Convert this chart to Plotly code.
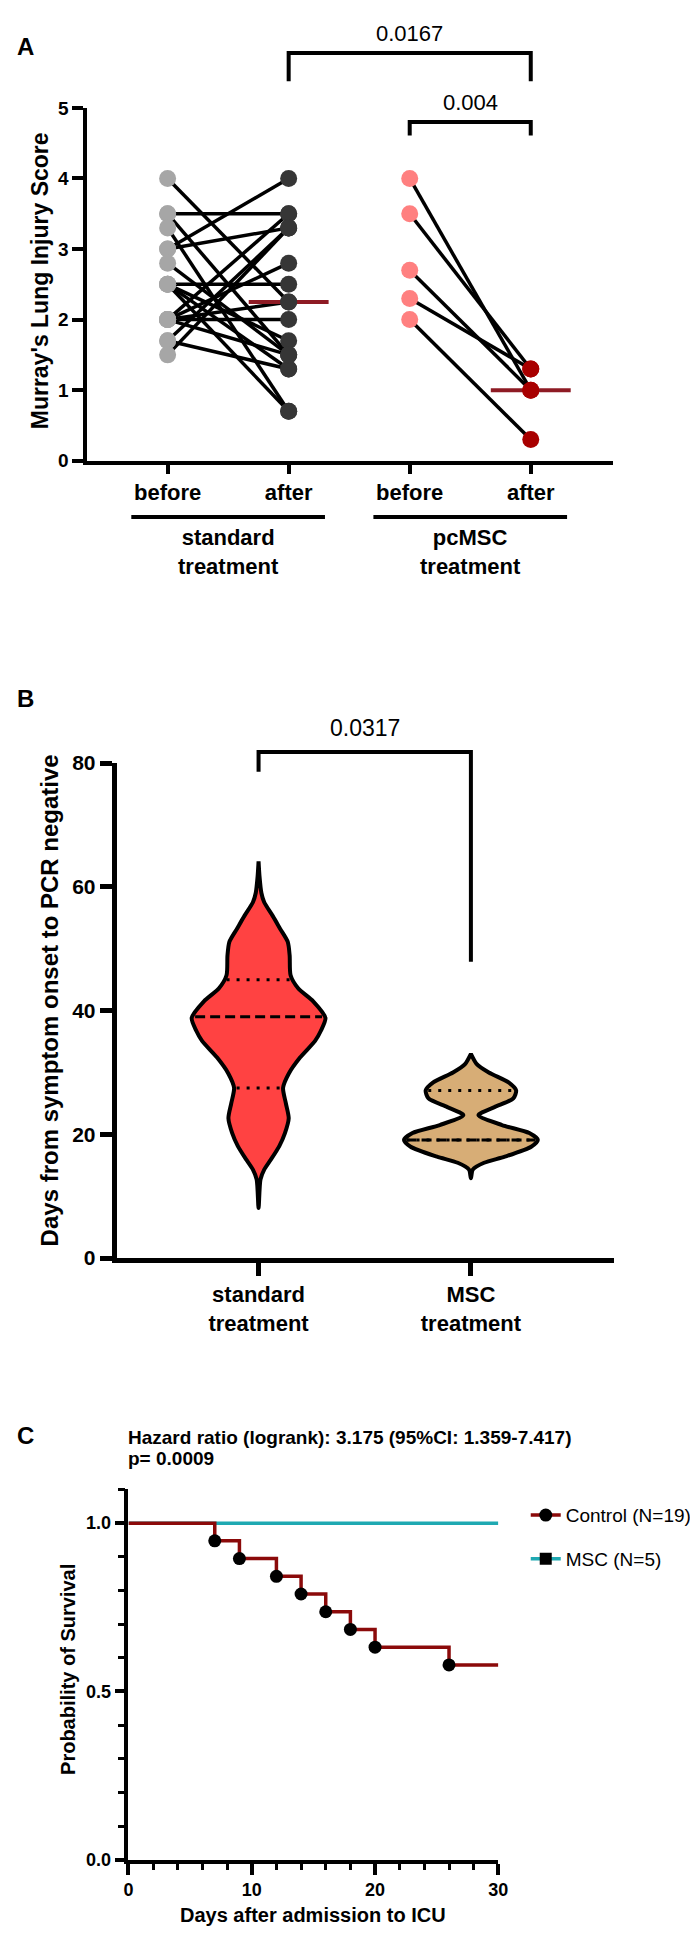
import numpy as np
import plotly.graph_objects as go

# ======================= DATA =======================
# Panel A : Murray's lung injury score, paired before/after
a_tick_labels = ["before", "after", "before", "after"]
a_group_labels = ["standard<br>treatment", "pcMSC<br>treatment"]
std_before = [4.0, 3.5, 3.5, 3.3, 3.0, 3.0, 2.8, 2.5, 2.5, 2.5, 2.0, 2.0, 2.0, 2.0, 1.7, 1.7, 1.5, 2.5, 2.0]
std_after = [2.25, 3.5, 1.5, 0.7, 4.0, 3.3, 1.5, 2.5, 1.3, 0.7, 2.0, 3.5, 2.8, 2.25, 3.3, 1.3, 3.3, 1.7, 1.5]
msc_before = [4.0, 3.5, 2.7, 2.3, 2.0]
msc_after = [1.0, 1.3, 1.0, 1.3, 0.3]
a_pvalues = ["0.0167", "0.004"]

# Panel B : days from symptom onset to PCR negative (violin profiles)
b_categories = ["standard<br>treatment", "MSC<br>treatment"]
std_days_values = [8.1, 12.7, 14.3, 15.9, 18.1, 20.2, 22.6, 25.0, 27.5, 29.8, 32.4, 35.1, 36.7,
                   38.8, 41.5, 43.6, 45.7, 48.9, 51.1, 53.2, 55.3, 57.5, 59.0, 61.7, 64.1]
std_days_density = [0, 2, 6, 13, 22, 28, 32, 29, 26, 32, 44, 60, 66,
                    71, 58, 42, 34, 33, 31, 23, 15, 6, 3, 1, 0]
msc_days_values = [12.9, 14.3, 15.4, 16.4, 18.0, 19.1, 20.2, 21.5, 23.1, 24.4, 25.8, 27.1, 28.4, 30.0, 31.4, 33.0]
msc_days_density = [0, 2, 14, 36, 64, 71, 62, 33, 8, 25, 45, 48, 40, 19, 6, 0]
std_days_quartiles = [27.5, 39.0, 45.0]   # q1, median, q3
msc_days_quartiles = [19.1, 19.1, 27.1]
b_pvalue = "0.0317"

# Panel C : Kaplan-Meier survival
control_death_days = [7, 9, 12, 14, 16, 18, 20, 26]
control_n = 19
msc_death_days = []
msc_n = 5
followup_days = 30
c_legend = ["Control (N=19)", "MSC (N=5)"]
c_title = ["Hazard ratio (logrank): 3.175 (95%CI: 1.359-7.417)", "p= 0.0009"]

# ======================= LAYOUT HELPERS =======================
W, H = 698, 1933
FONT = "Arial, Liberation Sans, sans-serif"


def fx(px):
    return px / W


def fy(py):
    return 1 - py / H


DOM = {
    "A": dict(x=[fx(76), fx(613)], y=[fy(446), fy(89)], xr=[-0.663, 3.678], yr=[0, 5]),
    "B": dict(x=[fx(106), fx(614)], y=[fy(1253), fy(752)], xr=[-0.668, 1.673], yr=[0, 80]),
    "C": dict(x=[fx(118), fx(496)], y=[fy(1862), fy(1487)], xr=[0, 30], yr=[0, 1.1005]),
}


def paper_x(p, v):
    d = DOM[p]
    return d["x"][0] + (v - d["xr"][0]) / (d["xr"][1] - d["xr"][0]) * (d["x"][1] - d["x"][0])


def paper_y(p, v):
    d = DOM[p]
    return d["y"][0] + (v - d["yr"][0]) / (d["yr"][1] - d["yr"][0]) * (d["y"][1] - d["y"][0])


fig = go.Figure()
shapes = []
annotations = []


def bracket(p, x0, x1, ytop, ydrop0, ydrop1, width):
    X0, X1 = paper_x(p, x0), paper_x(p, x1)
    YT, Y0, Y1 = paper_y(p, ytop), paper_y(p, ydrop0), paper_y(p, ydrop1)
    shapes.append(dict(type="path", xref="paper", yref="paper",
                       path=f"M {X0},{Y0} L {X0},{YT} L {X1},{YT} L {X1},{Y1}",
                       line=dict(color="black", width=width)))


# ======================= PANEL A =======================
def pair_lines(xb, xa, before, after):
    xs, ys = [], []
    for b, a in zip(before, after):
        xs += [xb, xa, None]
        ys += [b, a, None]
    return xs, ys


lx, ly = pair_lines(0, 1, std_before, std_after)
fig.add_trace(go.Scatter(x=lx, y=ly, mode="lines", line=dict(color="black", width=3.5),
                         xaxis="x", yaxis="y", showlegend=False, hoverinfo="skip"))
lx, ly = pair_lines(2, 3, msc_before, msc_after)
fig.add_trace(go.Scatter(x=lx, y=ly, mode="lines", line=dict(color="black", width=3.5),
                         xaxis="x", yaxis="y", showlegend=False, hoverinfo="skip"))

# medians of "after" groups
MED_HALF = 0.33
for xc, vals in [(1, std_after), (3, msc_after)]:
    m = float(np.median(vals))
    fig.add_trace(go.Scatter(x=[xc - MED_HALF, xc + MED_HALF], y=[m, m], mode="lines",
                             line=dict(color="#8E1B24", width=4), xaxis="x", yaxis="y",
                             showlegend=False, hoverinfo="skip"))

for xc, vals, col in [(0, std_before, "#A6A6A6"), (1, std_after, "#363636"),
                      (2, msc_before, "#FF8080"), (3, msc_after, "#A80000")]:
    fig.add_trace(go.Scatter(x=[xc] * len(vals), y=vals, mode="markers",
                             marker=dict(size=17, color=col, line=dict(width=0)),
                             xaxis="x", yaxis="y", showlegend=False, cliponaxis=False))

bracket("A", 1, 3, 5.78, 5.38, 5.38, 4)
bracket("A", 2, 3, 4.80, 4.61, 4.61, 4)
annotations.append(dict(x=paper_x("A", 2), y=fy(14), xref="paper", yref="paper", text=a_pvalues[0],
                        showarrow=False, font=dict(size=22, family=FONT, color="black"),
                        xanchor="center", yanchor="middle"))
annotations.append(dict(x=paper_x("A", 2.5), y=fy(83), xref="paper", yref="paper", text=a_pvalues[1],
                        showarrow=False, font=dict(size=22, family=FONT, color="black"),
                        xanchor="center", yanchor="middle"))

# group underlines and labels
for gi, (g0, g1) in enumerate([(0, 1), (2, 3)]):
    shapes.append(dict(type="line", xref="paper", yref="paper",
                       x0=paper_x("A", g0 - 0.3), x1=paper_x("A", g1 + 0.3), y0=fy(503), y1=fy(503),
                       line=dict(color="black", width=4)))
    annotations.append(dict(x=paper_x("A", (g0 + g1) / 2), y=fy(538), xref="paper", yref="paper",
                            text=a_group_labels[gi], showarrow=False,
                            font=dict(size=22, family=FONT, color="black", weight="bold"),
                            xanchor="center", yanchor="middle"))

annotations.append(dict(x=fx(27), y=fy(264), xref="paper", yref="paper",
                        text="Murray's Lung Injury Score", textangle=-90, showarrow=False,
                        font=dict(size=23, family=FONT, color="black", weight="bold"),
                        xanchor="center", yanchor="middle"))

# ======================= PANEL B =======================
VIOLIN_HALF = 0.315


def violin(center, values, dens, fill):
    dens = np.asarray(dens, float)
    hw = dens / dens.max() * VIOLIN_HALF
    vals = list(values)
    xs = [center + w for w in hw] + [center - w for w in hw[::-1]]
    ys = vals + vals[::-1]
    fig.add_trace(go.Scatter(x=xs, y=ys, mode="lines", fill="toself", fillcolor=fill,
                             line=dict(color="black", width=4, shape="spline", smoothing=0.7),
                             xaxis="x2", yaxis="y2", showlegend=False, hoverinfo="skip"))
    return hw


def qline(center, values, hw, v, dash):
    w = float(np.interp(v, values, hw)) - 0.012
    fig.add_trace(go.Scatter(x=[center - w, center + w], y=[v, v], mode="lines",
                             line=dict(color="black", width=3, dash=dash),
                             xaxis="x2", yaxis="y2", showlegend=False, hoverinfo="skip"))


hw_std = violin(0, std_days_values, std_days_density, "#FF4242")
hw_msc = violin(1, msc_days_values, msc_days_density, "#D7AD76")
for c, vals, hw, q in [(0, std_days_values, hw_std, std_days_quartiles),
                       (1, msc_days_values, hw_msc, msc_days_quartiles)]:
    qline(c, vals, hw, q[1], "10px,5px")
    qline(c, vals, hw, q[0], "3px,7px")
    qline(c, vals, hw, q[2], "3px,7px")

bracket("B", 0, 1, 81.8, 78.6, 47.9, 4)
annotations.append(dict(x=paper_x("B", 0.5), y=fy(717), xref="paper", yref="paper", text=b_pvalue,
                        showarrow=False, font=dict(size=23, family=FONT, color="black"),
                        xanchor="center", yanchor="middle"))
annotations.append(dict(x=fx(37), y=fy(992), xref="paper", yref="paper",
                        text="Days from symptom onset to PCR negative", textangle=-90, showarrow=False,
                        font=dict(size=24, family=FONT, color="black", weight="bold"),
                        xanchor="center", yanchor="middle"))

# ======================= PANEL C =======================
def km_curve(death_days, n, end):
    xs, ys = [0], [1.0]
    s = 1.0
    ev_x, ev_y = [], []
    at_risk = n
    for d in death_days:
        s = s * (at_risk - 1) / at_risk
        at_risk -= 1
        xs.append(d)
        ys.append(s)
        ev_x.append(d)
        ev_y.append(s)
    xs.append(end)
    ys.append(s)
    return xs, ys, ev_x, ev_y


mx, my, _, _ = km_curve(msc_death_days, msc_n, followup_days)
fig.add_trace(go.Scatter(x=mx, y=my, mode="lines", line=dict(color="#1FA9B2", width=3.5, shape="hv"),
                         xaxis="x3", yaxis="y3", showlegend=False, hoverinfo="skip"))
cx, cy, ex, ey = km_curve(control_death_days, control_n, followup_days)
fig.add_trace(go.Scatter(x=cx, y=cy, mode="lines", line=dict(color="#8B0A0A", width=3.5, shape="hv"),
                         xaxis="x3", yaxis="y3", showlegend=False, hoverinfo="skip"))
fig.add_trace(go.Scatter(x=ex, y=ey, mode="markers", marker=dict(size=13, color="black", symbol="circle"),
                         xaxis="x3", yaxis="y3", showlegend=False, hoverinfo="skip"))

# legend entries
fig.add_trace(go.Scatter(x=[None], y=[None], mode="lines+markers", name=c_legend[0], legendgroup="g1",
                         line=dict(color="#8B0A0A", width=3.5),
                         marker=dict(size=13, color="black", symbol="circle"),
                         xaxis="x3", yaxis="y3"))
fig.add_trace(go.Scatter(x=[None], y=[None], mode="lines+markers", name=c_legend[1], legendgroup="g2",
                         line=dict(color="#1FA9B2", width=3.5),
                         marker=dict(size=12, color="black", symbol="square"),
                         xaxis="x3", yaxis="y3"))

annotations.append(dict(x=fx(115), y=fy(1435), xref="paper", yref="paper", text=c_title[0],
                        showarrow=False, font=dict(size=19, family=FONT, color="black", weight="bold"),
                        xanchor="left", yanchor="middle"))
annotations.append(dict(x=fx(115), y=fy(1456), xref="paper", yref="paper", text=c_title[1],
                        showarrow=False, font=dict(size=19, family=FONT, color="black", weight="bold"),
                        xanchor="left", yanchor="middle"))
annotations.append(dict(x=fx(56), y=fy(1669), xref="paper", yref="paper", text="Probability of Survival",
                        textangle=-90, showarrow=False,
                        font=dict(size=20, family=FONT, color="black", weight="bold"),
                        xanchor="center", yanchor="middle"))
annotations.append(dict(x=paper_x("C", 15), y=fy(1918), xref="paper", yref="paper",
                        text="Days after admission to ICU", showarrow=False,
                        font=dict(size=20, family=FONT, color="black", weight="bold"),
                        xanchor="center", yanchor="middle"))

# panel letters
for letter, ypx in [("A", 27), ("B", 687), ("C", 1433)]:
    annotations.append(dict(x=fx(2), y=fy(ypx), xref="paper", yref="paper", text=letter, showarrow=False,
                            font=dict(size=24, family=FONT, color="black", weight="bold"),
                            xanchor="left", yanchor="middle"))

# ======================= AXES =======================
def axis_common(lw):
    return dict(showline=True, linecolor="black", linewidth=lw, showgrid=False, zeroline=False,
                ticks="outside", tickcolor="black")


fig.update_layout(
    width=W, height=H, autosize=False,
    margin=dict(l=0, r=0, t=0, b=0),
    paper_bgcolor="white", plot_bgcolor="white",
    font=dict(family=FONT, color="black"),
    showlegend=True,
    legend=dict(x=fx(524), y=fy(1494), xanchor="left", yanchor="top",
                font=dict(size=19, family=FONT, color="black"),
                bgcolor="rgba(0,0,0,0)", tracegroupgap=16, itemwidth=30),
    xaxis=dict(domain=DOM["A"]["x"], range=DOM["A"]["xr"], anchor="y",
               tickvals=[0, 1, 2, 3], ticktext=a_tick_labels, ticklen=9, tickwidth=4,
               tickfont=dict(size=22, family=FONT, weight="bold"), **axis_common(4)),
    yaxis=dict(domain=DOM["A"]["y"], range=DOM["A"]["yr"], anchor="x",
               tickvals=[0, 1, 2, 3, 4, 5], ticklen=11, tickwidth=4,
               tickfont=dict(size=19, family=FONT, weight="bold"), **axis_common(4)),
    xaxis2=dict(domain=DOM["B"]["x"], range=DOM["B"]["xr"], anchor="y2",
                tickvals=[0, 1], ticktext=b_categories, ticklen=13, tickwidth=5,
                tickfont=dict(size=22, family=FONT, weight="bold"), **axis_common(5)),
    yaxis2=dict(domain=DOM["B"]["y"], range=DOM["B"]["yr"], anchor="x2",
                tickvals=[0, 20, 40, 60, 80], ticklen=12, tickwidth=5,
                tickfont=dict(size=21, family=FONT, weight="bold"), **axis_common(5)),
    xaxis3=dict(domain=DOM["C"]["x"], range=DOM["C"]["xr"], anchor="y3",
                tickvals=[0, 10, 20, 30], ticklen=11, tickwidth=3.5,
                minor=dict(dtick=2, tick0=0, ticklen=6, tickwidth=3, tickcolor="black", ticks="outside"),
                tickfont=dict(size=18, family=FONT, weight="bold"), **axis_common(3.5)),
    yaxis3=dict(domain=DOM["C"]["y"], range=DOM["C"]["yr"], anchor="x3",
                tickvals=[0, 0.5, 1.0], ticktext=["0.0", "0.5", "1.0"], ticklen=10, tickwidth=3.5,
                minor=dict(dtick=0.1, tick0=0, ticklen=7, tickwidth=3, tickcolor="black", ticks="outside"),
                tickfont=dict(size=18, family=FONT, weight="bold"), **axis_common(3.5)),
    shapes=shapes,
    annotations=annotations,
)

fig.write_html("out.html")
